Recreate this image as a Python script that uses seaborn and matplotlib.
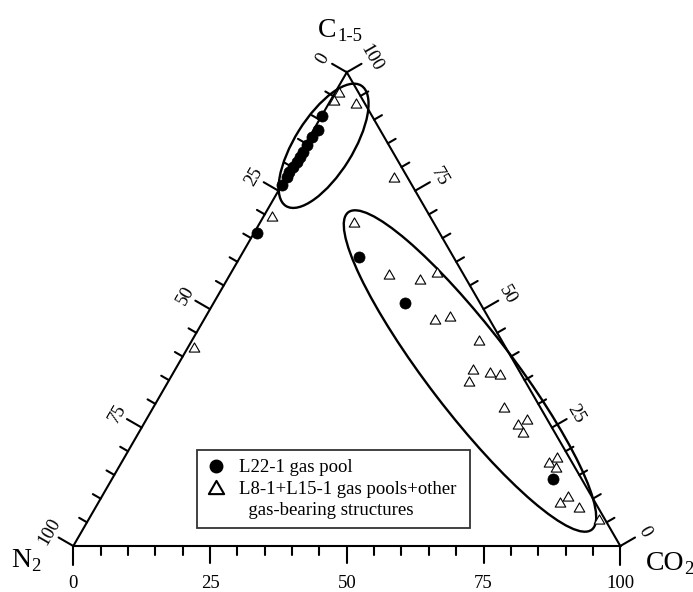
import numpy as np
import pandas as pd
import matplotlib
matplotlib.use("Agg")
import matplotlib.pyplot as plt
from matplotlib.path import Path
from matplotlib.patches import Ellipse
from matplotlib.lines import Line2D
import seaborn as sns

# ---------------- data (percent) ----------------
# L22-1 gas pool
l22_c15 = [90.8, 87.8, 86.3, 84.7, 83.2, 82.2, 81.1, 80.0, 79.0, 78.0, 76.2, 66.1, 61.1, 51.4, 14.1]
l22_co2 = [0.0, 0.8, 0.5, 0.4, 0.4, 0.3, 0.3, 0.2, 0.0, 0.0, 0.0, 0.5, 21.6, 35.0, 80.7]
# L8-1 + L15-1 gas pools + other gas-bearing structures
oth_c15 = [95.8, 94.2, 93.6, 78.0, 69.6, 68.5, 42.0, 57.5, 56.3, 57.8, 47.9, 48.6, 43.5, 37.3,
           36.7, 36.3, 34.8, 29.4, 26.8, 25.7, 24.1, 18.8, 17.7, 16.7, 10.6, 9.2, 8.2, 5.6]
oth_co2 = [0.6, 0.5, 4.8, 19.6, 1.5, 17.0, 1.1, 28.9, 35.2, 37.5, 42.2, 44.5, 52.5, 54.5,
           57.8, 59.9, 54.9, 64.1, 69.5, 68.5, 70.2, 79.1, 78.2, 79.9, 85.2, 84.3, 88.4, 93.3]

legend_labels = ["L22-1 gas pool", "L8-1+L15-1 gas pools+other", "  gas-bearing structures"]
major_ticks = [0, 25, 50, 75, 100]
minor_step = 5

sns.set_style("white")
plt.rcParams["font.family"] = ["Liberation Serif", "DejaVu Serif"]
plt.rcParams["text.color"] = "black"

H = np.sqrt(3) / 2


def to_xy(c15, co2):
    c = np.asarray(c15, float) / 100
    b = np.asarray(co2, float) / 100
    return b + 0.5 * c, c * H


# layout helper: pixel -> data
S = 547.0
X0, Y0 = 73.3, 546.0


def P(px, py):
    return ((px - X0) / S, (Y0 - py) / S)


fig = plt.figure(figsize=(6.93, 5.92), dpi=100)
ax = fig.add_axes([0, 0, 1, 1])

# triangle frame
ax.plot([0, 1, 0.5, 0], [0, 0, H, 0], color="black", lw=1.5,
        solid_joinstyle="miter", zorder=2)

# ticks and tick labels
fs_tick = 13.5
for v in range(0, 101, minor_step):
    major = v in major_ticks
    L = (17 if major else 9) / S
    f = v / 100
    # bottom axis (CO2, 0 at N2 vertex -> 100 at CO2 vertex)
    bx, by = f, 0.0
    Lb = (19 / S) if v in (0, 100) else L
    ax.plot([bx, bx], [by, by - Lb], color="black", lw=1.5, zorder=2)
    # left axis (N2: 0 at top -> 100 at N2 vertex)
    lx, ly = 0.5 * (1 - f), (1 - f) * H
    ax.plot([lx, lx - 0.866 * L], [ly, ly + 0.5 * L], color="black", lw=1.5, zorder=2)
    # right axis (C1-5: 0 at CO2 vertex -> 100 at top)
    rx, ry = 1 - 0.5 * f, f * H
    ax.plot([rx, rx + 0.866 * L], [ry, ry + 0.5 * L], color="black", lw=1.5, zorder=2)
    if major:
        ax.text(bx, P(0, 583.3)[1], f"{v}", ha="center", va="center", fontsize=fs_tick)
        d = 28 / S
        ax.text(lx - 0.866 * d, ly + 0.5 * d, f"{v}", ha="center", va="center",
                rotation=60, fontsize=fs_tick, rotation_mode="anchor")
        ax.text(rx + 0.866 * d, ry + 0.5 * d, f"{v}", ha="center", va="center",
                rotation=-60, fontsize=fs_tick, rotation_mode="anchor")


# vertex labels (big + small part on the same baseline)
def two_part(px, py, big, small, bsize=20, ssize=13.5):
    x, y = P(px, py)
    t = ax.text(x, y, big, fontsize=bsize, ha="left", va="baseline")
    ax.annotate(small, xy=(1, 0), xycoords=t, xytext=(0.3, -1.4),
                textcoords="offset points", fontsize=ssize, ha="left", va="bottom")


two_part(11.0, 566.7, "N", "2")
two_part(645.5, 570.0, "CO", "2")
two_part(318.0, 37.0, "C", "1-5")

# ellipses
ax.add_patch(Ellipse(P(323.6, 145.8), 142 / S, 58 / S, angle=58,
                     fill=False, edgecolor="black", lw=1.7, zorder=2))
ax.add_patch(Ellipse(P(470.0, 371.0), 400 / S, 84 / S, angle=-52.5,
                     fill=False, edgecolor="black", lw=1.7, zorder=2))

# data points
x1, y1 = to_xy(l22_c15, l22_co2)
x2, y2 = to_xy(oth_c15, oth_co2)
df1 = pd.DataFrame({"x": x1, "y": y1})
df2 = pd.DataFrame({"x": x2, "y": y2})

tri = Path([(-1, -0.866), (1, -0.866), (0, 0.866), (-1, -0.866)],
           [Path.MOVETO, Path.LINETO, Path.LINETO, Path.CLOSEPOLY])

sns.scatterplot(data=df2, x="x", y="y", marker=tri, s=58, color="white",
                edgecolor="black", linewidth=0.8, ax=ax, zorder=3, legend=False)
sns.scatterplot(data=df1, x="x", y="y", marker="o", s=64, color="black",
                edgecolor="black", linewidth=0.5, ax=ax, zorder=4, legend=False)
ax.set_xlim(P(0, 0)[0], P(693, 0)[0])
ax.set_ylim(P(0, 592)[1], P(0, 0)[1])
ax.axis("off")

# legend
handles = [
    Line2D([], [], linestyle="none", marker="o", markersize=9, color="black"),
    Line2D([], [], linestyle="none", marker=tri, markersize=11, markerfacecolor="white",
           markeredgecolor="black", markeredgewidth=1.5),
    Line2D([], [], linestyle="none"),
]
lx0, ly0 = P(197, 531)
lx1, ly1 = P(470, 450)
leg = ax.legend(handles, legend_labels, loc="upper left",
                bbox_to_anchor=(lx0, ly0, lx1 - lx0, ly1 - ly0),
                bbox_transform=ax.transData, mode="expand", borderaxespad=0,
                fontsize=13.5, frameon=True, fancybox=False, handlelength=1.0,
                handletextpad=0.75, labelspacing=0.22, borderpad=0.5)
leg.get_frame().set_edgecolor("black")
leg.get_frame().set_linewidth(1.3)
for t in leg.get_texts():
    t.set_color("black")

fig.savefig("out.png", dpi=100, facecolor="white")
